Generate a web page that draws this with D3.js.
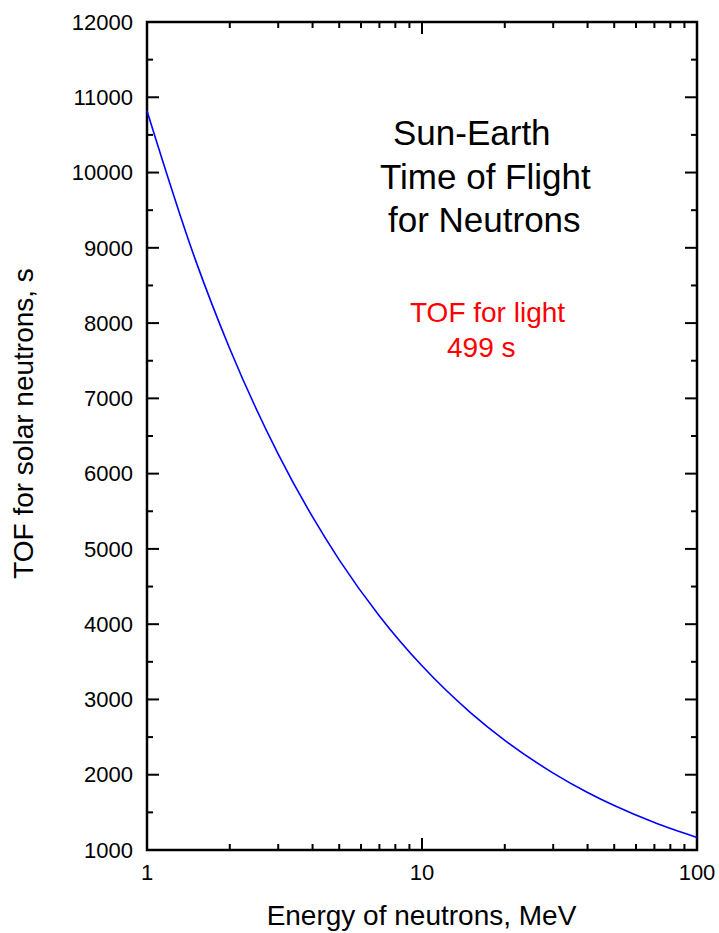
<!DOCTYPE html>
<html>
<head>
<meta charset="utf-8">
<script src="https://cdn.jsdelivr.net/npm/d3@7"></script>
<style>
  html, body { margin: 0; padding: 0; background: #fff; }
  svg { display: block; font-family: "Liberation Sans", Arial, sans-serif; }
</style>
</head>
<body>
<svg id="chart" width="719" height="933"></svg>
<script>
// Neutron kinetic energy (MeV) and Sun-Earth time of flight (s)
const energyMeV = [1, 1.5, 2, 3, 4, 5, 7, 10, 15, 20, 30, 40, 50, 70, 100];
const tofSeconds = [10820, 8840, 7660, 6260, 5425, 4855, 4110, 3447, 2826, 2457, 2022, 1764, 1590, 1364, 1166];

const xTickValues = [1, 10, 100];
const yTickValues = [1000, 2000, 3000, 4000, 5000, 6000, 7000, 8000, 9000, 10000, 11000, 12000];

const titleLines = ["Sun-Earth", "Time of Flight", "for Neutrons"];
const lightLines = ["TOF for light", "499 s"];

const svg = d3.select("#chart");
const plot = { left: 147, right: 697, top: 22, bottom: 850 };

const x = d3.scaleLog().domain([1, 100]).range([plot.left, plot.right]);
const y = d3.scaleLinear().domain([1000, 12000]).range([plot.bottom, plot.top]);

// minor ticks: 2..9 in each decade; minor y ticks at half-thousands
const xMinor = [];
for (let d = 1; d < 100; d *= 10) for (let k = 2; k <= 9; k++) xMinor.push(d * k);
const yMinor = d3.range(1500, 12000, 1000);

const majorLen = 12, minorLen = 6;
const tickStroke = "#000", tickW = 2;

const ticks = svg.append("g");
// bottom & top x ticks (inward)
xTickValues.forEach(v => {
  ticks.append("line").attr("x1", x(v)).attr("x2", x(v)).attr("y1", plot.bottom).attr("y2", plot.bottom - majorLen);
  ticks.append("line").attr("x1", x(v)).attr("x2", x(v)).attr("y1", plot.top).attr("y2", plot.top + majorLen);
});
xMinor.forEach(v => {
  ticks.append("line").attr("x1", x(v)).attr("x2", x(v)).attr("y1", plot.bottom).attr("y2", plot.bottom - minorLen);
  ticks.append("line").attr("x1", x(v)).attr("x2", x(v)).attr("y1", plot.top).attr("y2", plot.top + minorLen);
});
// left & right y ticks (inward)
yTickValues.forEach(v => {
  ticks.append("line").attr("x1", plot.left).attr("x2", plot.left + majorLen).attr("y1", y(v)).attr("y2", y(v));
  ticks.append("line").attr("x1", plot.right).attr("x2", plot.right - majorLen).attr("y1", y(v)).attr("y2", y(v));
});
yMinor.forEach(v => {
  ticks.append("line").attr("x1", plot.left).attr("x2", plot.left + minorLen).attr("y1", y(v)).attr("y2", y(v));
  ticks.append("line").attr("x1", plot.right).attr("x2", plot.right - minorLen).attr("y1", y(v)).attr("y2", y(v));
});
ticks.selectAll("line").attr("stroke", tickStroke).attr("stroke-width", tickW);

// frame
svg.append("rect")
  .attr("x", plot.left).attr("y", plot.top)
  .attr("width", plot.right - plot.left).attr("height", plot.bottom - plot.top)
  .attr("fill", "none").attr("stroke", "#000").attr("stroke-width", 2.5);

// tick labels
svg.append("g").selectAll("text").data(yTickValues).join("text")
  .attr("x", 133).attr("y", d => y(d)).attr("dy", "0.35em")
  .attr("text-anchor", "end").attr("font-size", 22).attr("fill", "#000")
  .text(d => d);

svg.append("g").selectAll("text").data(xTickValues).join("text")
  .attr("x", d => x(d)).attr("y", 880)
  .attr("text-anchor", "middle").attr("font-size", 22).attr("fill", "#000")
  .text(d => d);

// axis titles
svg.append("text")
  .attr("x", 421.5).attr("y", 925)
  .attr("text-anchor", "middle").attr("font-size", 28).attr("fill", "#000")
  .text("Energy of neutrons, MeV");

svg.append("text")
  .attr("transform", "translate(33,423.5) rotate(-90)")
  .attr("text-anchor", "middle").attr("font-size", 28).attr("fill", "#000")
  .text("TOF for solar neutrons, s");

// curve
const line = d3.line()
  .x((d, i) => x(energyMeV[i]))
  .y(d => y(d))
  .curve(d3.curveMonotoneX);

svg.append("path")
  .datum(tofSeconds)
  .attr("d", line)
  .attr("fill", "none").attr("stroke", "#0000ff").attr("stroke-width", 1.6);

// annotations
const titleX = [393, 380, 388];
const titleY = [145, 189, 232];
svg.append("g").selectAll("text").data(titleLines).join("text")
  .attr("x", (d, i) => titleX[i]).attr("y", (d, i) => titleY[i])
  .attr("font-size", 35).attr("fill", "#000")
  .text(d => d);

const lightX = [410, 447];
const lightY = [322, 357];
svg.append("g").selectAll("text").data(lightLines).join("text")
  .attr("x", (d, i) => lightX[i]).attr("y", (d, i) => lightY[i])
  .attr("font-size", 28).attr("fill", "#ff0000")
  .text(d => d);
</script>
</body>
</html>
